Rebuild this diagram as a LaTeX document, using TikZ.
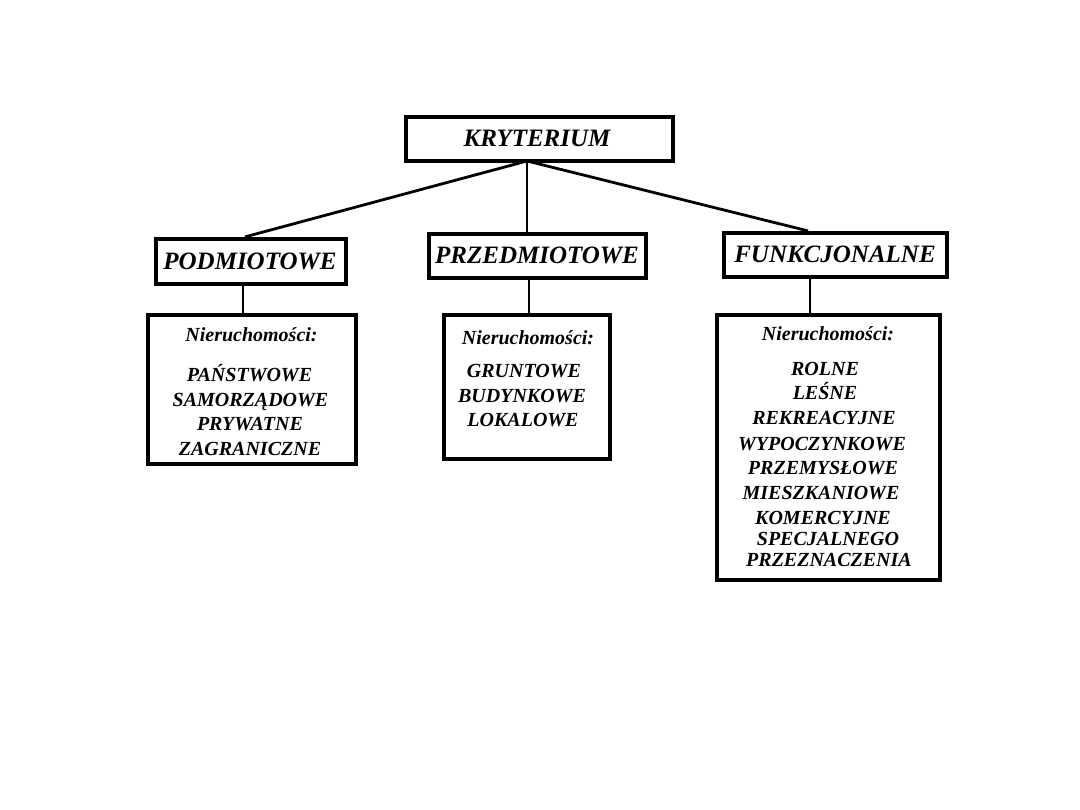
\documentclass[tikz,border=0pt]{standalone}
\usepackage{fontspec}
\setmainfont{Liberation Serif}
\begin{document}
\begin{tikzpicture}[x=1pt,y=-1pt,
  topbox/.style={draw,line width=4.2pt,inner sep=0pt},
  listbox/.style={draw,line width=3.2pt,inner sep=0pt},
  conn/.style={line width=2.8pt},
  headtxt/.style={font=\fontsize{25}{28}\selectfont\bfseries\itshape,inner sep=0pt},
  itemtxt/.style={anchor=base,font=\fontsize{20}{24}\selectfont\bfseries\itshape,inner sep=0pt,text height=13.5pt,text depth=0.5pt},
  nieru/.style={anchor=base,font=\fontsize{20}{24}\selectfont\bfseries\itshape,inner sep=0pt}]
\useasboundingbox[fill=white] (0,0) rectangle (1080,810);
% top-level boxes
\node[topbox,minimum width=267pt,minimum height=44pt] (kry) at (539.5,139) {};
\node[headtxt] (krytxt) at (537,138) {KRYTERIUM};
\node[topbox,minimum width=190pt,minimum height=45pt] (pod) at (251,261.5) {};
\node[headtxt] (podtxt) at (250,261) {PODMIOTOWE};
\node[topbox,minimum width=217pt,minimum height=44pt] (prz) at (537.5,256) {};
\node[headtxt] (prztxt) at (537,255) {PRZEDMIOTOWE};
\node[topbox,minimum width=223pt,minimum height=44pt] (fun) at (835.5,255) {};
\node[headtxt] (funtxt) at (835,254) {FUNKCJONALNE};
% lower boxes
\node[listbox,minimum width=208pt,minimum height=149pt] (l1) at (252,389.5) {};
\node[listbox,minimum width=166pt,minimum height=144pt] (l2) at (527,387) {};
\node[listbox,minimum width=223pt,minimum height=265pt] (l3) at (828.5,447.5) {};
% texts in the left box
\node[nieru] (n1) at (251.5,342) {Nieruchomości:};
\node[itemtxt] (a1) at (249.5,382) {PAŃSTWOWE};
\node[itemtxt] (a2) at (250.5,407) {SAMORZĄDOWE};
\node[itemtxt] (a3) at (250,431) {PRYWATNE};
\node[itemtxt] (a4) at (250,456) {ZAGRANICZNE};
% texts in the middle box
\node[nieru] (n2) at (528,345) {Nieruchomości:};
\node[itemtxt] (b1) at (524,378) {GRUNTOWE};
\node[itemtxt] (b2) at (522,403) {BUDYNKOWE};
\node[itemtxt] (b3) at (523,427) {LOKALOWE};
% texts in the right box
\node[nieru] (n3) at (828,341) {Nieruchomości:};
\node[itemtxt] (c1) at (825,376) {ROLNE};
\node[itemtxt] (c2) at (825,400) {LEŚNE};
\node[itemtxt] (c3) at (824,425) {REKREACYJNE};
\node[itemtxt] (c4) at (822,450) {WYPOCZYNKOWE};
\node[itemtxt] (c5) at (823,475) {PRZEMYSŁOWE};
\node[itemtxt] (c6) at (821,500) {MIESZKANIOWE};
\node[itemtxt] (c7) at (823,524) {KOMERCYJNE};
\node[itemtxt] (c8) at (828,545) {SPECJALNEGO};
\node[itemtxt] (c9) at (829,566) {PRZEZNACZENIA};
% connectors
\coordinate (hub) at (527,161);
\draw[conn] (hub) -- (pod.north -| 245,0);
\draw[conn] (hub) -- (prz.north -| 527,0);
\draw[conn] (hub) -- (fun.north -| 808,0);
\draw[conn] (pod.south -| 243,0) -- (l1.north -| 243,0);
\draw[conn] (prz.south -| 529,0) -- (l2.north -| 529,0);
\draw[conn] (fun.south -| 810,0) -- (l3.north -| 810,0);
\end{tikzpicture}
\end{document}
